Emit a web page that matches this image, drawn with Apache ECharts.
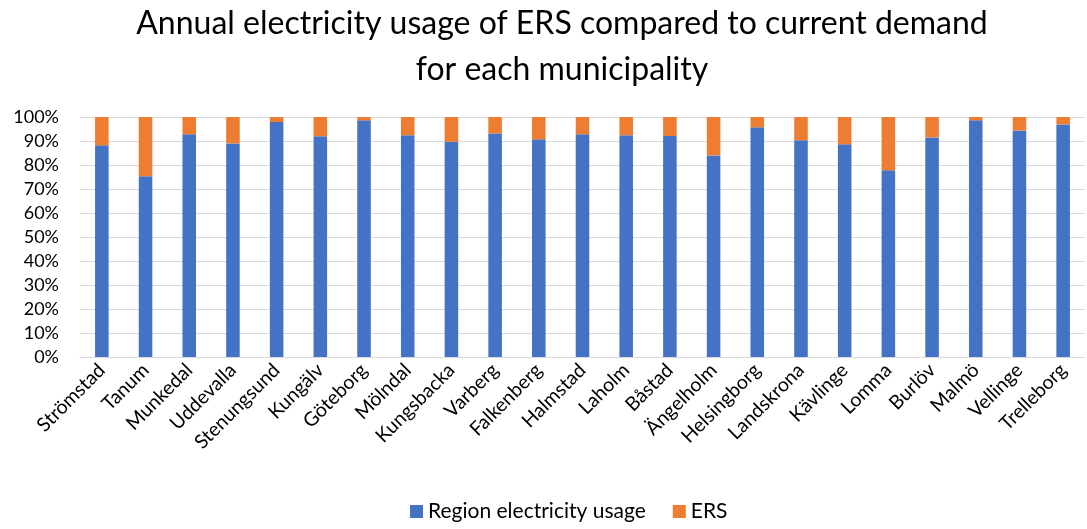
<!DOCTYPE html>
<html>
<head>
<meta charset="utf-8">
<script src="https://cdn.jsdelivr.net/npm/echarts@6/dist/echarts.min.js"></script>
<style>
html, body { margin: 0; padding: 0; background: #fff; }
#main { width: 1087px; height: 529px; }
</style>
</head>
<body>
<div id="main"></div>
<script>
var municipalities = ['Strömstad', 'Tanum', 'Munkedal', 'Uddevalla', 'Stenungsund', 'Kungälv', 'Göteborg',
    'Mölndal', 'Kungsbacka', 'Varberg', 'Falkenberg', 'Halmstad', 'Laholm', 'Båstad', 'Ängelholm',
    'Helsingborg', 'Landskrona', 'Kävlinge', 'Lomma', 'Burlöv', 'Malmö', 'Vellinge', 'Trelleborg'];

// andel regional elanvändning (%)
var regionUsage = [88.2, 75.3, 92.8, 89.0, 97.9, 92.0, 98.6, 92.4, 89.7, 93.1, 90.7, 92.8,
    92.4, 92.1, 84.0, 95.7, 90.3, 88.6, 77.8, 91.5, 98.6, 94.4, 96.9];
// andel ERS (%)
var ersUsage = [11.8, 24.7, 7.2, 11.0, 2.1, 8.0, 1.4, 7.6, 10.3, 6.9, 9.3, 7.2,
    7.6, 7.9, 16.0, 4.3, 9.7, 11.4, 22.2, 8.5, 1.4, 5.6, 3.1];

var yTicks = [0, 10, 20, 30, 40, 50, 60, 70, 80, 90, 100];

var myChart = echarts.init(document.getElementById('main'));
var fontFam = 'Lato, "Open Sans", sans-serif';

var option = {
    animation: false,
    title: {
        text: 'Annual electricity usage of ERS compared to current demand\nfor each municipality',
        left: 557,
        textAlign: 'center',
        top: -4,
        textStyle: {
            fontFamily: fontFam,
            fontSize: 32,
            fontWeight: 'normal',
            color: '#000',
            lineHeight: 46
        }
    },
    legend: {
        bottom: 2,
        left: 405,
        itemWidth: 13,
        itemHeight: 13,
        itemGap: 27,
        icon: 'rect',
        textStyle: { fontFamily: fontFam, fontSize: 21, color: '#000' },
        data: ['Region electricity usage', 'ERS']
    },
    grid: {
        left: 80,
        right: 2,
        top: 117,
        bottom: 172
    },
    xAxis: {
        type: 'category',
        data: municipalities,
        axisTick: { show: false },
        axisLine: { lineStyle: { color: '#D9D9D9', width: 1 } },
        axisLabel: {
            rotate: 45,
            interval: 0,
            margin: 10,
            fontFamily: fontFam,
            fontSize: 19.5,
            color: '#000'
        }
    },
    yAxis: {
        type: 'value',
        min: yTicks[0],
        max: yTicks[yTicks.length - 1],
        interval: 10,
        axisLine: { show: false },
        axisTick: { show: false },
        splitLine: { lineStyle: { color: '#D9D9D9', width: 1 } },
        axisLabel: {
            formatter: '{value}%',
            fontFamily: fontFam,
            fontSize: 18,
            color: '#000',
            margin: 21
        }
    },
    series: [{
        name: 'Region electricity usage',
        type: 'bar',
        stack: 'total',
        barWidth: '31%',
        itemStyle: { color: '#4472C4' },
        data: regionUsage
    }, {
        name: 'ERS',
        type: 'bar',
        stack: 'total',
        barWidth: '31%',
        itemStyle: { color: '#ED7D31' },
        data: ersUsage
    }]
};

myChart.setOption(option);
</script>
</body>
</html>
